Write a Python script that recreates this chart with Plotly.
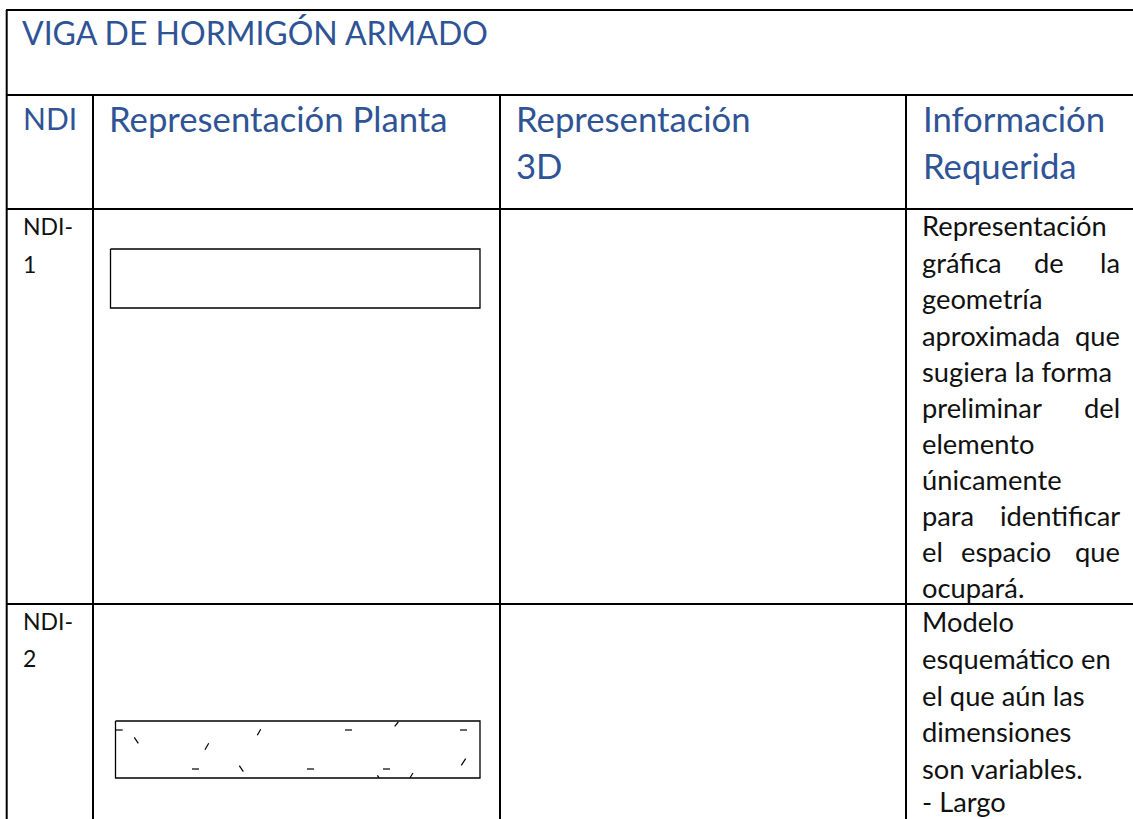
import plotly.graph_objects as go

W, H = 1133, 819
FONT = "Lato"
BLUE = "#2F5496"
INK = "#111111"

# grid lines of the table
h_rules = [(6, 1133, 10), (6, 1133, 95), (6, 1133, 209), (6, 1133, 604)]
v_rules = [(6.7, 10, 819), (93, 95, 819), (500, 95, 819), (906, 95, 819)]

# plan drawings
rect_a = ([110.5, 480, 480, 110.5, 110.5], [249, 249, 308, 308, 249])
rect_b = ([115.5, 480, 480, 115.5, 115.5], [721, 721, 778, 778, 721])
ticks = [
    (115.7, 122.7, 730, 730), (345, 352, 730, 730), (460, 467, 730, 730),
    (192, 199, 769, 769), (307, 314, 769, 769), (383, 390, 769, 769),
    (134.3, 138.3, 737.3, 743.3), (257.3, 260.7, 735.3, 729.3),
    (205, 208.7, 749.7, 743.3), (394.7, 398.3, 726.3, 722),
    (239.3, 243.3, 765.7, 771.7), (461.3, 465.7, 765.3, 758.7),
    (377.3, 379, 775.3, 777.7), (410, 413, 777.7, 773),
]

# text: (string, x, y, size, anchor)
heads = [
    ("VIGA DE HORMIGÓN ARMADO", 22, 32, 32, "left"),
    ("NDI", 23, 118, 30, "left"),
    ("Representación Planta", 109, 118, 34.7, "left"),
    ("Representación", 516, 118, 34.7, "left"),
    ("3D", 516, 165, 34.7, "left"),
    ("Información", 922.5, 118, 34.7, "left"),
    ("Requerida", 922.5, 165, 34.7, "left"),
]
ndi = [("NDI-", 23, 226), ("1", 23, 264), ("NDI-", 23, 621), ("2", 23, 658)]
body = [
    ("Representación", 922, 225, "left"),
    ("gráfica", 922, 262, "left"), ("de", 1049, 262, "center"), ("la", 1120, 262, "right"),
    ("geometría", 922, 298, "left"),
    ("aproximada", 922, 335, "left"), ("que", 1120, 335, "right"),
    ("sugiera la forma", 922, 371, "left"),
    ("preliminar", 922, 407, "left"), ("del", 1120, 407, "right"),
    ("elemento", 922, 443, "left"),
    ("únicamente", 922, 479, "left"),
    ("para", 922, 515, "left"), ("identificar", 1120, 515, "right"),
    ("el", 922, 551, "left"), ("espacio", 1006, 551, "center"), ("que", 1120, 551, "right"),
    ("ocupará.", 922, 587, "left"),
    ("Modelo", 922, 621, "left"),
    ("esquemático en", 922, 658, "left"),
    ("el que aún las", 922, 695, "left"),
    ("dimensiones", 922, 731, "left"),
    ("son variables.", 922, 768, "left"),
    ("- Largo", 922, 801, "left"),
]

fig = go.Figure()
for x0, x1, y in h_rules:
    fig.add_trace(go.Scatter(x=[x0, x1], y=[y, y], mode="lines", line=dict(color="#000", width=2), hoverinfo="skip"))
for x, y0, y1 in v_rules:
    fig.add_trace(go.Scatter(x=[x, x], y=[y0, y1], mode="lines", line=dict(color="#000", width=2), hoverinfo="skip"))
for xs, ys in (rect_a, rect_b):
    fig.add_trace(go.Scatter(x=xs, y=ys, mode="lines", line=dict(color="#000", width=1.3), hoverinfo="skip"))
for x0, x1, y0, y1 in ticks:
    fig.add_trace(go.Scatter(x=[x0, x1], y=[y0, y1], mode="lines", line=dict(color="#000", width=1.2), hoverinfo="skip"))

PAD = dict(showarrow=False, yanchor="middle", borderpad=0, borderwidth=0)
for s, x, y, size, anchor in heads:
    fig.add_annotation(x=x, y=y, text=s, xanchor=anchor, font=dict(family=FONT, size=size, color=BLUE), **PAD)
for s, x, y in ndi:
    fig.add_annotation(x=x, y=y, text=s, xanchor="left", font=dict(family=FONT, size=23, color=INK), **PAD)
for s, x, y, anchor in body:
    fig.add_annotation(x=x, y=y, text=s, xanchor=anchor, font=dict(family=FONT, size=27.3, color=INK), **PAD)

fig.update_layout(width=W, height=H, margin=dict(l=0, r=0, t=0, b=0), showlegend=False,
                  paper_bgcolor="white", plot_bgcolor="white",
                  xaxis=dict(range=[0, W], visible=False, fixedrange=True),
                  yaxis=dict(range=[H, 0], visible=False, fixedrange=True))
fig.write_html("out.html", config={"displayModeBar": False},
               post_script="document.body.style.margin='0';document.body.style.overflow='hidden';")
